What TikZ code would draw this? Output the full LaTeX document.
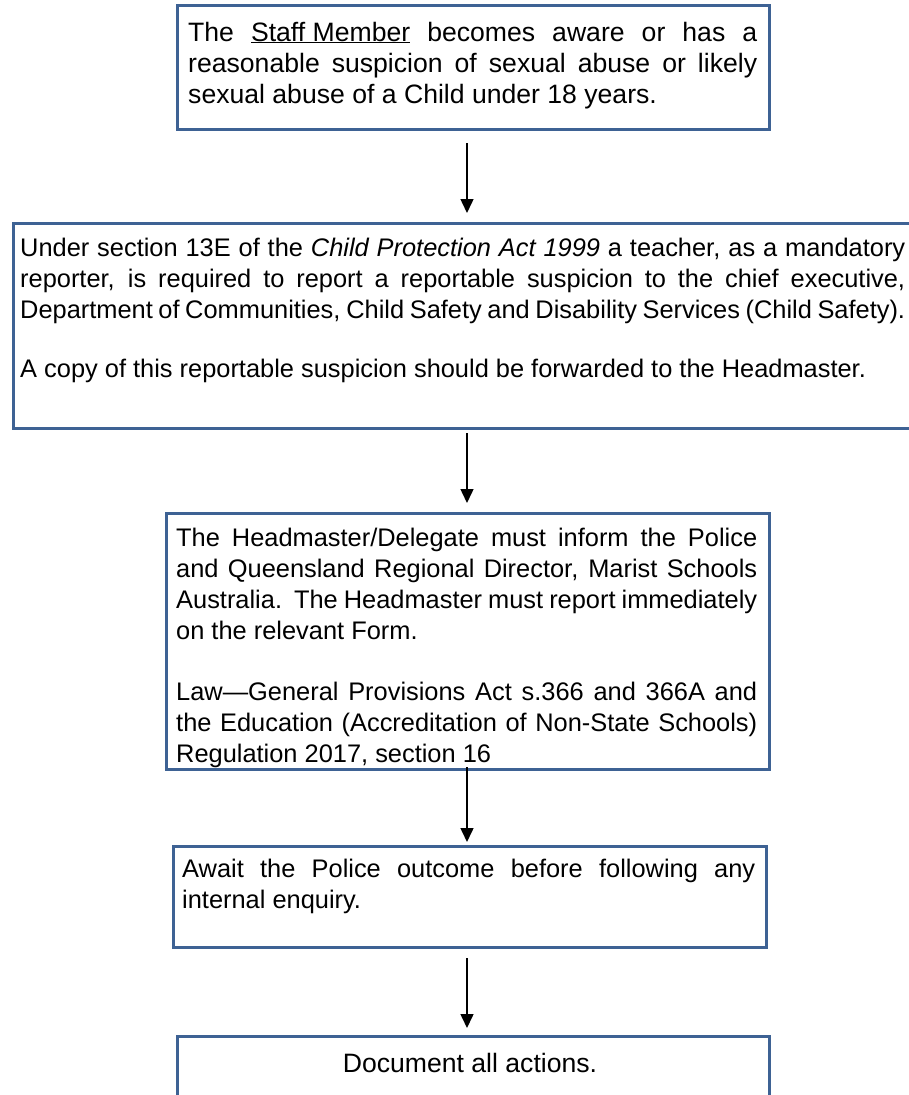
\documentclass[tikz,border=0pt]{standalone}
\usepackage{fontspec}
\setmainfont{Liberation Sans}
\usetikzlibrary{arrows.meta}
\definecolor{boxblue}{RGB}{62,98,148}
\hyphenpenalty=10000
\exhyphenpenalty=10000
\tolerance=9999

\begin{document}
\begin{tikzpicture}[x=1pt, y=-1pt, >={Triangle[length=14pt,width=13pt]},
        font=\fontsize{26.6}{31}\selectfont,
        box/.style={draw=boxblue, line width=3pt, anchor=north west, inner sep=0pt},
        txt/.style={anchor=base west, inner sep=0pt, align=justify},
        smalltxt/.style={txt, font=\fontsize{25.4}{31}\selectfont},
        arr/.style={->, line width=1.5pt}]
    \useasboundingbox (0,0) rectangle (909,1095);
    \clip (0,0) rectangle (909,1095);
    \coordinate (ax) at (467,0);
    % boxes
    \node[box, minimum width=592pt, minimum height=124pt] (b1) at (176,4) {};
    \node[box, minimum width=920pt, minimum height=205pt] (b2) at (12,222) {};
    \node[box, minimum width=603pt, minimum height=256pt] (b3) at (165,512) {};
    \node[box, minimum width=593pt, minimum height=101pt] (b4) at (172,845) {};
    \node[box, minimum width=592pt, minimum height=100pt] (b5) at (176,1035) {};
    % texts
    \node[txt, text width=569pt] (t1) at (188,41) {The \underline{Staff Member} becomes aware or has a reasonable suspicion of sexual abuse or likely sexual abuse of a Child under 18 years.};
    \node[smalltxt, text width=885pt] (t2) at (20,256) {Under section 13E of the \textit{Child Protection Act 1999} a teacher, as a mandatory reporter, is required to report a reportable suspicion to the chief executive, Department of Communities, Child Safety and Disability Services (Child Safety).\par\vspace{28pt}A copy of this reportable suspicion should be forwarded to the Headmaster.};
    \node[smalltxt, text width=581pt] (t3) at (176,546) {The Headmaster/Delegate must inform the Police and Queensland Regional Director, Marist Schools Australia.\ \ The Headmaster must report immediately on the relevant Form.\par\vspace{30pt}Law—General Provisions Act s.366 and 366A and the Education (Accreditation of Non-State Schools) Regulation 2017, section 16};
    \node[smalltxt, text width=573pt] (t4) at (182,877) {Await the Police outcome before following any internal enquiry.};
    \node[anchor=base, inner sep=0pt] (t5) at (470,1072) {Document all actions.};
    % arrows
    \draw[arr, shorten <=12pt, shorten >=9pt] (b1.south -| ax) -- (b2.north -| ax);
    \draw[arr, shorten <=3pt, shorten >=9pt] (b2.south -| ax) -- (b3.north -| ax);
    \draw[arr, shorten <=-4pt, shorten >=3pt] (b3.south -| ax) -- (b4.north -| ax);
    \draw[arr, shorten <=9pt, shorten >=7pt] (b4.south -| ax) -- (b5.north -| ax);
\end{tikzpicture}
\end{document}
